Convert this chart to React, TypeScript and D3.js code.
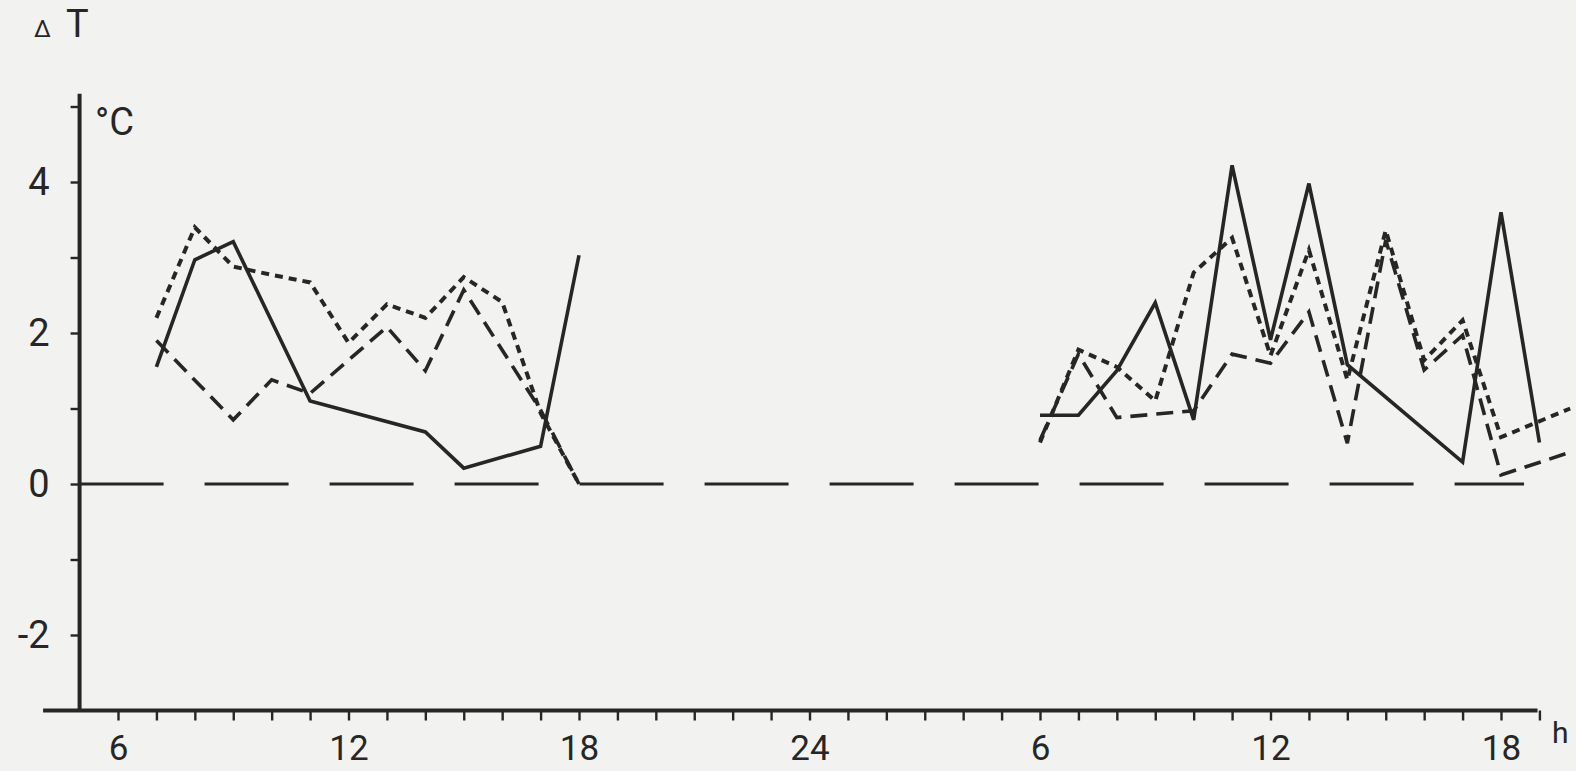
import React, { useRef, useEffect } from "react";
import * as d3 from "d3";

// hours on the day clock; day 2 is shifted by 24 h when drawn
const solidHoursDay1 = [7, 8, 9, 11, 14, 15, 17, 18];
const solidValuesDay1 = [1.55, 2.97, 3.21, 1.1, 0.69, 0.21, 0.5, 3.03];
const solidHoursDay2 = [6, 7, 8, 9, 10, 11, 12, 13, 14, 17, 18, 19];
const solidValuesDay2 = [0.91, 0.91, 1.5, 2.4, 0.85, 4.22, 1.91, 3.98, 1.58, 0.29, 3.6, 0.55];

const dottedHoursDay1 = [7, 8, 9, 10, 11, 12, 13, 14, 15, 16, 17, 18];
const dottedValuesDay1 = [2.2, 3.4, 2.88, 2.77, 2.67, 1.87, 2.38, 2.2, 2.74, 2.41, 0.94, 0];
const dottedHoursDay2 = [6, 7, 8, 9, 10, 11, 12, 13, 14, 15, 16, 17, 18, 19.8];
const dottedValuesDay2 = [0.55, 1.78, 1.55, 1.1, 2.8, 3.26, 1.7, 3.1, 1.38, 3.36, 1.64, 2.17, 0.62, 1.0];

const dashedHoursDay1 = [7, 9, 10, 11, 13, 14, 15, 17, 18];
const dashedValuesDay1 = [1.9, 0.85, 1.38, 1.2, 2.08, 1.5, 2.57, 0.98, 0];
const dashedHoursDay2 = [6, 7, 8, 10, 11, 12, 13, 14, 15, 16, 17, 18, 19.8];
const dashedValuesDay2 = [0.58, 1.72, 0.88, 0.97, 1.72, 1.6, 2.28, 0.54, 3.23, 1.51, 1.97, 0.12, 0.42];

const hourTicks = [6, 7, 8, 9, 10, 11, 12, 13, 14, 15, 16, 17, 18, 19, 20, 21, 22, 23, 24, 25, 26, 27, 28, 29, 30, 31, 32, 33, 34, 35, 36, 37, 38, 39, 40, 41, 42, 43];
const labelledHours = [6, 12, 18, 24, 30, 36, 42];
const hourLabels = ["6", "12", "18", "24", "6", "12", "18"];

const tempTicks = [-2, -1, 0, 1, 2, 3, 4, 5];
const labelledTemps = [-2, 0, 2, 4];
const tempLabels = ["-2", "0", "2", "4"];

const width = 1576;
const height = 771;
const INK = "#262626";
const PAPER = "#f2f2f0";
const FONT = "Roboto";

const App: React.FC = () => {
  const svgRef = useRef<SVGSVGElement>(null);

  useEffect(() => {
    document.body.style.margin = "0";
    if (!svgRef.current) return;
    const svg = d3.select(svgRef.current);
    svg.selectAll("*").remove();

    const x = d3.scaleLinear().domain([6, 42]).range([118, 1501]);
    const y = d3.scaleLinear().domain([0, 4]).range([484, 182]);

    svg.append("rect").attr("width", width).attr("height", height).attr("fill", PAPER);

    // zero reference line
    svg
      .append("line")
      .attr("x1", x(5))
      .attr("x2", x(42.6))
      .attr("y1", y(0))
      .attr("y2", y(0))
      .attr("stroke", INK)
      .attr("stroke-width", 2.8)
      .attr("stroke-dasharray", "84 41");

    // x axis
    const gx = svg
      .append("g")
      .attr("transform", `translate(0,${y(-3)})`)
      .call(
        d3
          .axisBottom(x)
          .tickValues(hourTicks)
          .tickSize(10)
          .tickSizeOuter(0)
          .tickFormat((h) => {
            const i = labelledHours.indexOf(h as number);
            return i >= 0 ? hourLabels[i] : "";
          })
      );
    gx.select(".domain").remove();
    gx.selectAll("line").attr("stroke", INK).attr("stroke-width", 2.4);
    gx.selectAll("text")
      .attr("y", 49)
      .attr("dy", null)
      .attr("font-family", FONT)
      .attr("font-size", 35)
      .attr("fill", INK);

    svg
      .append("line")
      .attr("x1", x(4.05))
      .attr("x2", x(42.95))
      .attr("y1", y(-3))
      .attr("y2", y(-3))
      .attr("stroke", INK)
      .attr("stroke-width", 4);

    // y axis
    const gy = svg
      .append("g")
      .attr("transform", `translate(${x(5)},0)`)
      .call(
        d3
          .axisLeft(y)
          .tickValues(tempTicks)
          .tickSize(9)
          .tickSizeOuter(0)
          .tickFormat((v) => {
            const i = labelledTemps.indexOf(v as number);
            return i >= 0 ? tempLabels[i] : "";
          })
      );
    gy.select(".domain").remove();
    gy.selectAll("line").attr("stroke", INK).attr("stroke-width", 2.4);
    gy.selectAll("text")
      .attr("x", -30)
      .attr("font-family", FONT)
      .attr("font-size", 38)
      .attr("fill", INK);

    svg
      .append("line")
      .attr("x1", x(5))
      .attr("x2", x(5))
      .attr("y1", y(5.17))
      .attr("y2", y(-3))
      .attr("stroke", INK)
      .attr("stroke-width", 4);

    // series
    const line = d3
      .line<[number, number]>()
      .x((d) => x(d[0]))
      .y((d) => y(d[1]));

    const series = [
      { hours: solidHoursDay1, values: solidValuesDay1, offset: 0, dash: null, w: 3.6 },
      { hours: solidHoursDay2, values: solidValuesDay2, offset: 24, dash: null, w: 3.6 },
      { hours: dottedHoursDay1, values: dottedValuesDay1, offset: 0, dash: "8 6", w: 4 },
      { hours: dottedHoursDay2, values: dottedValuesDay2, offset: 24, dash: "8 6", w: 4 },
      { hours: dashedHoursDay1, values: dashedValuesDay1, offset: 0, dash: "17 9", w: 3.6 },
      { hours: dashedHoursDay2, values: dashedValuesDay2, offset: 24, dash: "17 9", w: 3.6 },
    ];

    series.forEach((s) => {
      const pts = s.hours.map((h, i) => [h + s.offset, s.values[i]] as [number, number]);
      svg
        .append("path")
        .attr("d", line(pts))
        .attr("fill", "none")
        .attr("stroke", INK)
        .attr("stroke-width", s.w)
        .attr("stroke-linejoin", "miter")
        .attr("stroke-dasharray", s.dash);
    });

    // labels
    const title = svg
      .append("text")
      .attr("x", 34)
      .attr("y", 37)
      .attr("font-family", FONT)
      .attr("fill", INK);
    title.append("tspan").attr("font-size", 24).text("Δ");
    title.append("tspan").attr("x", 66).attr("font-size", 38).text("T");

    svg
      .append("text")
      .attr("x", 95)
      .attr("y", 135)
      .attr("font-family", FONT)
      .attr("font-size", 38)
      .attr("fill", INK)
      .text("°C");

    svg
      .append("text")
      .attr("x", 1552)
      .attr("y", 743)
      .attr("font-family", FONT)
      .attr("font-size", 30)
      .attr("fill", INK)
      .text("h");
  }, []);

  return (
    <svg
      ref={svgRef}
      width={width}
      height={height}
      style={{ display: "block", position: "absolute", left: 0, top: 0 }}
    ></svg>
  );
};

export default App;
